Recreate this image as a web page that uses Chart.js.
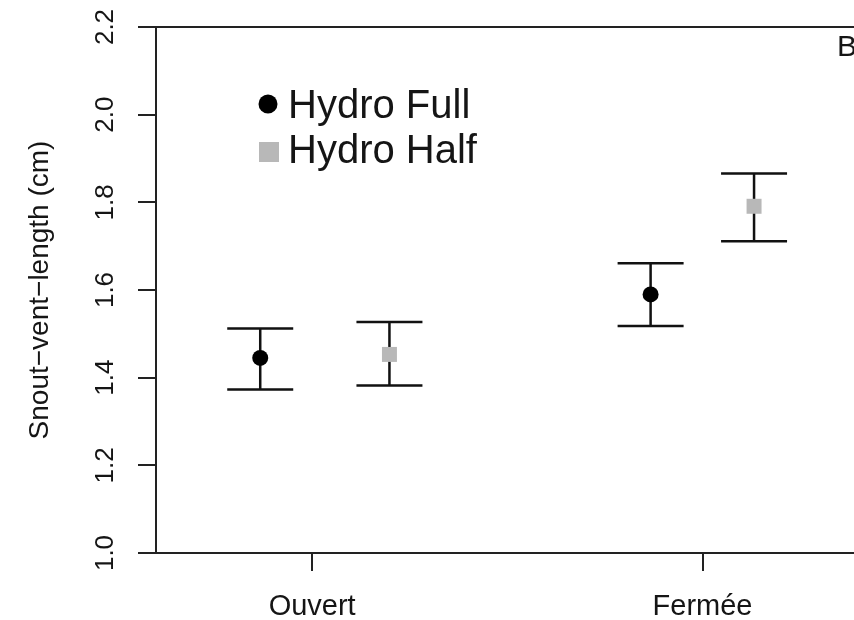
<!DOCTYPE html>
<html>
<head>
<meta charset="utf-8">
<script src="https://cdn.jsdelivr.net/npm/chart.js@4"></script>
<style>
html,body{margin:0;padding:0;background:#fff;overflow:hidden;}
#wrap{width:900px;height:620px;}
</style>
</head>
<body>
<div id="wrap"><canvas id="c" width="900" height="620"></canvas></div>
<script>
// ---- data ----
const categories = ['Ouvert', 'Fermée'];
const seriesNames = ['Hydro Full', 'Hydro Half'];
const fullMean  = [1.445, 1.590];
const fullLower = [1.373, 1.518];
const fullUpper = [1.512, 1.661];
const halfMean  = [1.453, 1.791];
const halfLower = [1.382, 1.711];
const halfUpper = [1.527, 1.866];
const yTickValues = [1.0, 1.2, 1.4, 1.6, 1.8, 2.0, 2.2];
const yTickLabels = ['1.0', '1.2', '1.4', '1.6', '1.8', '2.0', '2.2'];
const yTitle = 'Snout\u2212vent\u2212length (cm)';
const panelLabel = 'B';

// category positions on the x axis and dodge offsets
const categoryPos = [1, 2];
const fullOffset = [-0.133, -0.133];
const halfOffset = [0.198, 0.132];

const FONT = "'Liberation Sans', Arial, Helvetica, sans-serif";
const INK = '#151515';
const GREY = '#b8b8b8';

function buildPoints(mean, lo, hi, off) {
  return categoryPos.map((p, i) => ({ x: p + off[i], y: mean[i], lo: lo[i], hi: hi[i] }));
}

const decor = {
  id: 'decor',
  beforeDatasetsDraw(chart) {
    const ctx = chart.ctx;
    const xs = chart.scales.x, ys = chart.scales.y;
    ctx.save();
    ctx.strokeStyle = '#111';
    ctx.lineWidth = 2.5;
    chart.data.datasets.forEach(ds => {
      ds.data.forEach(d => {
        const px = xs.getPixelForValue(d.x);
        const yl = ys.getPixelForValue(d.lo);
        const yh = ys.getPixelForValue(d.hi);
        const hw = 33;
        ctx.beginPath();
        ctx.moveTo(px, yl); ctx.lineTo(px, yh);
        ctx.moveTo(px - hw, yl); ctx.lineTo(px + hw, yl);
        ctx.moveTo(px - hw, yh); ctx.lineTo(px + hw, yh);
        ctx.stroke();
      });
    });
    ctx.restore();
  },
  afterDraw(chart) {
    const ctx = chart.ctx;
    const a = chart.chartArea;
    const ys = chart.scales.y;
    ctx.save();
    // plot box
    ctx.strokeStyle = '#222';
    ctx.lineWidth = 2;
    ctx.strokeRect(a.left, a.top, a.right - a.left, a.bottom - a.top);

    // y tick labels (rotated)
    ctx.fillStyle = INK;
    ctx.font = '26px ' + FONT;
    ctx.textAlign = 'center';
    ctx.textBaseline = 'middle';
    yTickValues.forEach((v, i) => {
      const py = ys.getPixelForValue(v);
      ctx.save();
      ctx.translate(106, py);
      ctx.rotate(-Math.PI / 2);
      ctx.fillText(yTickLabels[i], 0, 0);
      ctx.restore();
    });

    // y title, centred on the axis
    ctx.save();
    ctx.font = '28px ' + FONT;
    ctx.translate(40, (a.top + a.bottom) / 2);
    ctx.rotate(-Math.PI / 2);
    ctx.fillText(yTitle, 0, 0);
    ctx.restore();

    // legend
    ctx.textAlign = 'left';
    ctx.textBaseline = 'alphabetic';
    ctx.font = '40px ' + FONT;
    const ds = chart.data.datasets;
    ctx.fillStyle = ds[0].backgroundColor;
    ctx.beginPath();
    ctx.arc(268, 104, 9.5, 0, Math.PI * 2);
    ctx.fill();
    ctx.fillStyle = INK;
    ctx.fillText(ds[0].label, 288, 118);
    ctx.fillStyle = ds[1].backgroundColor;
    ctx.fillRect(259, 142, 20, 20);
    ctx.fillStyle = INK;
    ctx.fillText(ds[1].label, 288, 163);

    // panel label
    ctx.font = '30px ' + FONT;
    ctx.fillText(panelLabel, 837, 56);
    ctx.restore();
  }
};

new Chart(document.getElementById('c'), {
  type: 'scatter',
  data: {
    datasets: [
      {
        label: seriesNames[0],
        data: buildPoints(fullMean, fullLower, fullUpper, fullOffset),
        pointStyle: 'circle',
        pointRadius: 8,
        backgroundColor: '#000',
        borderColor: '#000',
        borderWidth: 0
      },
      {
        label: seriesNames[1],
        data: buildPoints(halfMean, halfLower, halfUpper, halfOffset),
        pointStyle: 'rect',
        pointRadius: 10.6,
        backgroundColor: GREY,
        borderColor: GREY,
        borderWidth: 0
      }
    ]
  },
  options: {
    responsive: false,
    devicePixelRatio: 1,
    animation: false,
    layout: { padding: { top: 27, right: 14, left: 0, bottom: 0 } },
    plugins: { legend: { display: false }, tooltip: { enabled: false } },
    scales: {
      x: {
        type: 'linear',
        min: 0.6,
        max: 2.47,
        afterBuildTicks: s => { s.ticks = categoryPos.map(v => ({ value: v })); },
        afterFit: s => { s.height = 67; },
        ticks: {
          callback: v => categories[categoryPos.indexOf(v)],
          font: { family: FONT, size: 29 },
          color: INK,
          padding: 19,
          maxRotation: 0,
          autoSkip: false
        },
        grid: { display: true, drawOnChartArea: false, drawTicks: true, tickLength: 18, color: '#222', lineWidth: 2 },
        border: { display: true, color: '#222', width: 2 }
      },
      y: {
        min: 1.0,
        max: 2.2,
        afterBuildTicks: s => { s.ticks = yTickValues.map(v => ({ value: v })); },
        afterFit: s => { s.width = 156; },
        ticks: { display: false },
        grid: { display: true, drawOnChartArea: false, drawTicks: true, tickLength: 18, color: '#222', lineWidth: 2 },
        border: { display: true, color: '#222', width: 2 }
      }
    }
  },
  plugins: [decor]
});
</script>
</body>
</html>
